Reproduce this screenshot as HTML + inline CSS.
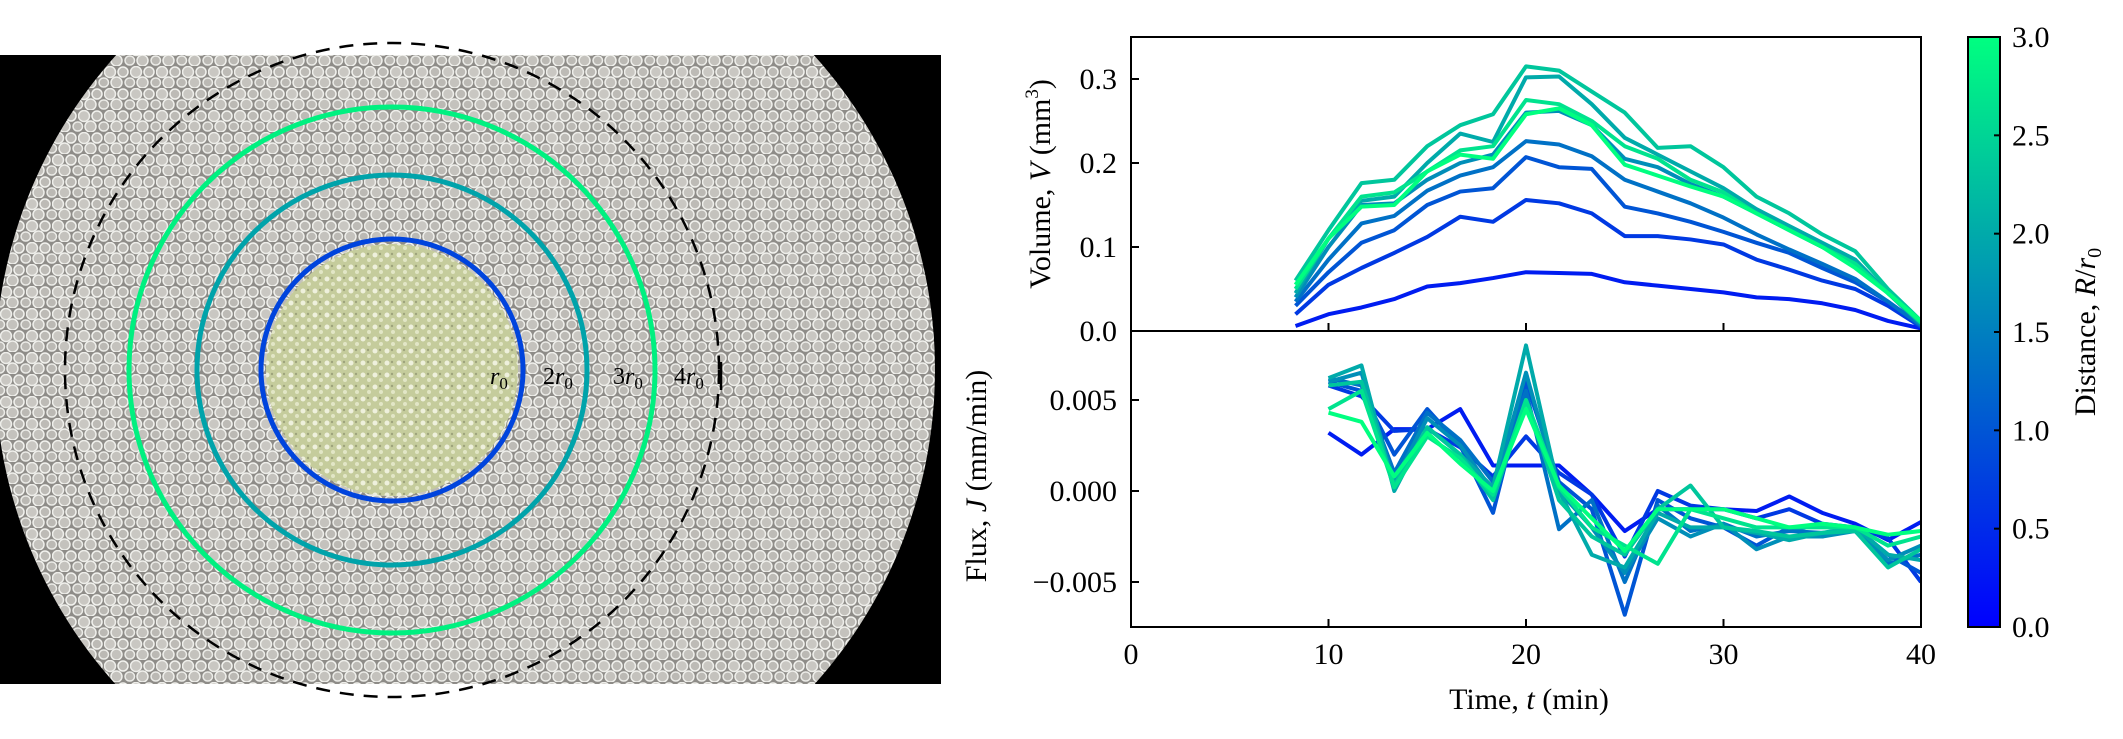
<!DOCTYPE html>
<html><head><meta charset="utf-8"><style>
html,body{margin:0;background:#fff;overflow:hidden;width:2123px;height:739px;}
svg{display:block;font-family:"Liberation Serif","DejaVu Serif",serif;}
text{font-family:"Liberation Serif","DejaVu Serif",serif;}
</style></head><body>
<svg id="fig" width="2123" height="739" viewBox="0 0 2123 739" xmlns="http://www.w3.org/2000/svg" font-family="Liberation Serif, serif">
<defs>
<pattern id="bub" width="26" height="22" patternUnits="userSpaceOnUse">
<rect width="26" height="22" fill="#8e8c88"/>
<circle cx="6" cy="6" r="5.5" fill="#c9c7c2" stroke="#eeeeea" stroke-width="1.5"/>
<circle cx="19" cy="6" r="5" fill="#bdbbb6" stroke="#f2f2ee" stroke-width="1.5"/>
<circle cx="12.5" cy="16.5" r="5.5" fill="#c4c2bd" stroke="#efefeb" stroke-width="1.5"/>
<circle cx="25.5" cy="16.5" r="4.5" fill="#bbb9b4" stroke="#ecece8" stroke-width="1.5"/>
<circle cx="0" cy="16.5" r="4.5" fill="#bbb9b4" stroke="#ecece8" stroke-width="1.5"/>
</pattern>
<pattern id="cell" width="12" height="12" patternUnits="userSpaceOnUse">
<rect width="12" height="12" fill="#c5cc9c"/>
<circle cx="3" cy="3" r="2.5" fill="#eef0dc"/>
<circle cx="9" cy="8" r="2" fill="#e2e6c6"/>
<circle cx="8" cy="2" r="1.2" fill="#9ea37c"/>
</pattern>
<clipPath id="photoClip"><rect x="0" y="55" width="941" height="629"/></clipPath>
<linearGradient id="cbar" x1="0" y1="1" x2="0" y2="0">
<stop offset="0" stop-color="#0000ff"/><stop offset="1" stop-color="#00ff80"/>
</linearGradient>
</defs>
<g>
<rect x="0" y="55" width="941" height="629" fill="#000"/>
<g clip-path="url(#photoClip)">
<circle cx="465" cy="370" r="470" fill="url(#bub)"/>
</g>
<circle cx="392" cy="370" r="126" fill="url(#cell)"/>
<circle cx="392" cy="370" r="131" fill="none" stroke="#0044dd" stroke-width="5"/>
<circle cx="392" cy="370" r="195" fill="none" stroke="#00a3aa" stroke-width="5"/>
<circle cx="392" cy="370" r="263" fill="none" stroke="#00f080" stroke-width="5"/>
<circle cx="392" cy="370" r="327" fill="none" stroke="#000" stroke-width="2.5" stroke-dasharray="14,10"/>
<line x1="721" y1="362" x2="721" y2="390" stroke="#000" stroke-width="2.5"/>
<g font-size="24" font-style="italic" fill="#000">
<text x="490" y="384">r<tspan font-size="17" dy="5" font-style="normal">0</tspan></text>
<text x="543" y="384"><tspan font-style="normal">2</tspan>r<tspan font-size="17" dy="5" font-style="normal">0</tspan></text>
<text x="613" y="384"><tspan font-style="normal">3</tspan>r<tspan font-size="17" dy="5" font-style="normal">0</tspan></text>
<text x="674" y="384"><tspan font-style="normal">4</tspan>r<tspan font-size="17" dy="5" font-style="normal">0</tspan></text>
</g>
</g>
<g id="plots" font-family="Liberation Serif, serif"></g>
</svg>
<script>
const volTimes=[8.33,10,11.67,13.33,15,16.67,18.33,20,21.67,23.33,25,26.67,28.33,30,31.67,33.33,35,36.67,38.33,40];
const fluxTimes=[10,11.67,13.33,15,16.67,18.33,20,21.67,23.33,25,26.67,28.33,30,31.67,33.33,35,36.67,38.33,40];
const distances=[0.33,0.67,1.0,1.33,1.67,2.0,2.33,2.67,3.0];
const vol1=[0.006,0.02,0.028,0.038,0.053,0.057,0.063,0.07,0.069,0.068,0.058,0.054,0.05,0.046,0.04,0.038,0.033,0.025,0.012,0.003];
const vol2=[0.02,0.055,0.075,0.093,0.112,0.136,0.13,0.156,0.152,0.14,0.113,0.113,0.109,0.103,0.085,0.073,0.06,0.05,0.03,0.005];
const vol3=[0.03,0.07,0.105,0.12,0.15,0.166,0.17,0.207,0.195,0.193,0.148,0.14,0.13,0.118,0.105,0.093,0.075,0.058,0.035,0.006];
const vol4=[0.035,0.085,0.128,0.137,0.167,0.185,0.195,0.226,0.222,0.208,0.18,0.166,0.152,0.135,0.115,0.097,0.08,0.062,0.035,0.007];
const vol5=[0.04,0.1,0.15,0.152,0.18,0.2,0.21,0.26,0.262,0.245,0.205,0.195,0.175,0.16,0.14,0.12,0.1,0.08,0.045,0.008];
const vol6=[0.045,0.11,0.155,0.16,0.2,0.235,0.225,0.302,0.303,0.27,0.23,0.21,0.19,0.17,0.145,0.125,0.105,0.085,0.045,0.01];
const vol7=[0.06,0.12,0.176,0.18,0.22,0.245,0.258,0.315,0.31,0.285,0.26,0.218,0.22,0.195,0.16,0.14,0.115,0.095,0.05,0.012];
const vol8=[0.05,0.11,0.16,0.165,0.19,0.215,0.22,0.275,0.27,0.25,0.22,0.205,0.18,0.165,0.14,0.12,0.1,0.08,0.045,0.01];
const vol9=[0.055,0.11,0.148,0.15,0.19,0.21,0.205,0.258,0.265,0.245,0.198,0.185,0.172,0.16,0.14,0.12,0.1,0.075,0.045,0.012];
const flux1=[3.2,2.0,3.4,3.4,4.5,1.4,1.4,1.4,-0.2,-2.2,-1.0,-1.0,-1.0,-1.1,-0.3,-1.2,-1.8,-2.7,-1.7];
const flux2=[5.8,5.2,3.3,3.4,2.4,0.8,3.0,1.0,-0.2,-3.6,0.0,-0.8,-1.0,-1.5,-1.0,-1.8,-2.0,-2.6,-5.0];
const flux3=[6.0,5.5,2.0,4.5,2.5,-1.2,6.0,0.5,-1.0,-6.8,-0.5,-1.5,-2.0,-3.0,-2.0,-2.5,-2.0,-3.5,-4.5];
const flux4=[6.2,5.8,1.0,4.3,2.8,0.5,5.5,-2.1,-0.5,-5.0,-0.8,-2.2,-1.8,-2.5,-2.2,-2.3,-2.2,-4.0,-3.5];
const flux5=[6.0,6.5,0.5,4.0,2.5,0.0,6.5,0.0,-2.0,-4.5,-1.5,-2.5,-1.8,-3.2,-2.5,-2.5,-2.2,-3.8,-3.0];
const flux6=[6.2,6.9,0.0,3.5,2.0,0.2,8.0,0.0,-3.5,-4.2,-1.2,-2.0,-2.0,-2.3,-2.7,-2.3,-2.0,-3.5,-3.8];
const flux7=[5.8,6.0,0.3,3.5,2.0,-0.5,5.0,-0.5,-2.5,-3.5,-1.0,0.3,-2.0,-2.2,-2.5,-2.3,-2.2,-4.2,-3.2];
const flux8=[4.5,5.5,0.2,3.0,1.8,-0.2,5.0,0.2,-2.0,-3.0,-4.0,-1.0,-1.5,-2.0,-2.0,-2.0,-2.0,-3.0,-2.5];
const flux9=[4.3,3.8,0.8,3.2,1.5,0.0,4.5,0.3,-1.5,-3.3,-1.0,-1.0,-1.0,-1.5,-2.0,-1.8,-2.0,-2.4,-2.2];
const xTicks=[0,10,20,30,40];
const volTicks=[0.0,0.1,0.2,0.3];
const fluxTicks=[-5,0,5];
const fluxTickLabels=["\u22120.005","0.000","0.005"];
const cbarTicks=[0.0,0.5,1.0,1.5,2.0,2.5,3.0];

const volSeries=[vol1,vol2,vol3,vol4,vol5,vol6,vol7,vol8,vol9];
const fluxSeries=[flux1,flux2,flux3,flux4,flux5,flux6,flux7,flux8,flux9];
const NS="http://www.w3.org/2000/svg";
const FF="Liberation Serif, serif";
const plotG=document.getElementById('plots');
const L=1131,R=1921,T1=37,B1=331,B2=627;
const xs=t=>L+(t-0)/(40-0)*(R-L);
const yv=v=>B1-v/0.35*(B1-T1);
const yf=f=>491-f*(91/5);
const cbT=37,cbB=627,cbL=1968,cbR=2000;
const yc=d=>cbB-d/3*(cbB-cbT);
function color(d){const t=Math.max(0,Math.min(1,d/3));return `rgb(0,${Math.round(255*t)},${Math.round(255*(1-0.5*t))})`;}
function mk(tag,attrs,parent){const e=document.createElementNS(NS,tag);for(const k in attrs)e.setAttribute(k,attrs[k]);(parent||plotG).appendChild(e);return e;}
function txt(s,x,y,anchor,size,parent){const e=mk('text',{x:x,y:y,'text-anchor':anchor,'font-size':size,'font-family':FF},parent);e.textContent=s;return e;}

const defsEl=document.querySelector('defs');
mk('rect',{x:L,y:T1,width:R-L,height:B1-T1},mk('clipPath',{id:'c1'},defsEl));
mk('rect',{x:L,y:B1,width:R-L,height:B2-B1},mk('clipPath',{id:'c2'},defsEl));

const volGroup=mk('g',{'clip-path':'url(#c1)'});


volSeries.forEach((s,i)=>{
  const p=mk('polyline',{points:s.map((v,j)=>xs(volTimes[j])+','+yv(v)).join(' '),fill:'none',stroke:color(distances[i]),'stroke-width':4,'stroke-linejoin':'round'},volGroup);
  
  
});
const fluxGroup=mk('g',{'clip-path':'url(#c2)'});


fluxSeries.forEach((s,i)=>{
  const p=mk('polyline',{points:s.map((v,j)=>xs(fluxTimes[j])+','+yf(v)).join(' '),fill:'none',stroke:color(distances[i]),'stroke-width':4,'stroke-linejoin':'round'},fluxGroup);
  
  
});
const f1=mk('rect',{x:L,y:T1,width:R-L,height:B1-T1,fill:'none',stroke:'#000','stroke-width':2});


const f2=mk('rect',{x:L,y:B1,width:R-L,height:B2-B1,fill:'none',stroke:'#000','stroke-width':2});


xTicks.forEach(t=>{
  mk('line',{x1:xs(t),y1:B1,x2:xs(t),y2:B1-8,stroke:'#000','stroke-width':2});
  mk('line',{x1:xs(t),y1:B2,x2:xs(t),y2:B2-8,stroke:'#000','stroke-width':2});
  const e=txt(String(t),xs(t),664,'middle',30);
  
  
});
volTicks.forEach(v=>{
  mk('line',{x1:L,y1:yv(v),x2:L+8,y2:yv(v),stroke:'#000','stroke-width':2});
  const e=txt(v.toFixed(1),L-14,yv(v)+10,'end',30);
  
  
});
fluxTicks.forEach((v,i)=>{
  mk('line',{x1:L,y1:yf(v),x2:L+8,y2:yf(v),stroke:'#000','stroke-width':2});
  const e=txt(fluxTickLabels[i],L-14,yf(v)+10,'end',30);
  
  
});
const vt=mk('text',{transform:'translate(1050,184) rotate(-90)','text-anchor':'middle','font-size':30,'font-family':FF});
vt.innerHTML='Volume, <tspan font-style="italic">V</tspan> (mm<tspan font-size="19" dy="-12">3</tspan><tspan dy="12">)</tspan>';


const ft=mk('text',{transform:'translate(986,476) rotate(-90)','text-anchor':'middle','font-size':30,'font-family':FF});
ft.innerHTML='Flux, <tspan font-style="italic">J</tspan> (mm/min)';


const xt=mk('text',{x:1529,y:709,'text-anchor':'middle','font-size':30,'font-family':FF});
xt.innerHTML='Time, <tspan font-style="italic">t</tspan> (min)';


const cb=mk('rect',{x:cbL,y:cbT,width:cbR-cbL,height:cbB-cbT,fill:'url(#cbar)',stroke:'#000','stroke-width':2});


cbarTicks.forEach(d=>{
  mk('line',{x1:cbR-6,y1:yc(d),x2:cbR,y2:yc(d),stroke:'#000','stroke-width':2});
  const e=txt(d.toFixed(1),cbR+12,yc(d)+10,'start',30);
  
  
});
const ct=mk('text',{transform:'translate(2095,332) rotate(-90)','text-anchor':'middle','font-size':30,'font-family':FF});
ct.innerHTML='Distance, <tspan font-style="italic">R</tspan>/<tspan font-style="italic">r</tspan><tspan font-size="20" dy="6">0</tspan>';


</script>
</body></html>
